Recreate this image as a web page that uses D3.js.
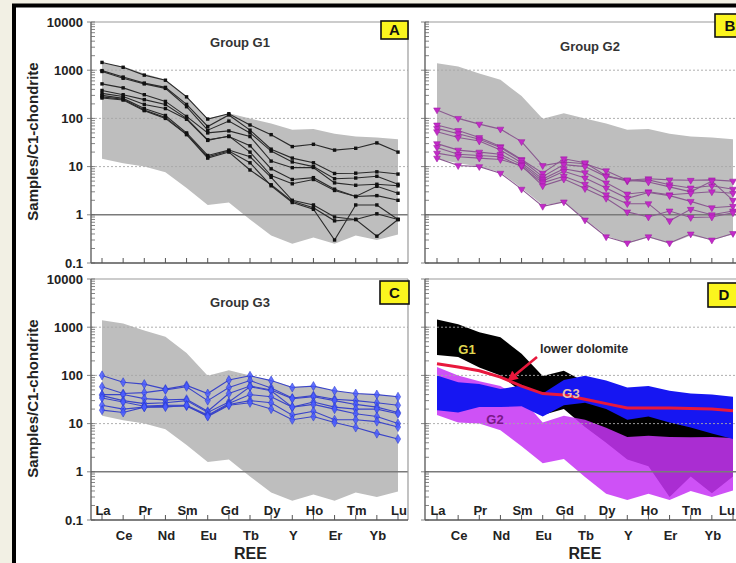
<!DOCTYPE html>
<html><head><meta charset="utf-8">
<script src="https://cdn.jsdelivr.net/npm/d3@7"></script>
<style>
html,body{margin:0;padding:0;background:#f2f0e4;overflow:hidden;}
svg{display:block;font-family:"Liberation Sans",Arial,sans-serif;}
</style></head><body>
<svg id="chart" width="736" height="563"></svg>
<script>
// ---------- DATA ----------
const categories = ["La","Ce","Pr","Nd","Sm","Eu","Gd","Tb","Dy","Y","Ho","Er","Tm","Yb","Lu"];
const yTickValues = [0.1, 1, 10, 100, 1000, 10000];
const yTickLabels = ["0.1", "1", "10", "100", "1000", "10000"];

// grey envelope of all samples
const envelopeUpper = [1400, 1200, 850, 630, 290, 98, 128, 100, 78, 58, 60, 48, 42, 40, 37];
const envelopeLower = [14.6, 11.8, 10, 7.6, 3.6, 1.6, 1.8, 0.8, 0.37, 0.25, 0.34, 0.25, 0.37, 0.3, 0.39];

// Group G1 samples
const groupG1 = [
  [1450, 1150, 790, 620, 280, 97, 125, 73, 46, 26, 29, 22, 24, 31, 20],
  [980, 720, 540, 440, 195, 68, 118, 57, 23, 15, 12, 7.2, 7.3, 7.8, 7],
  [940, 680, 520, 420, 175, 57, 88, 50, 21, 12.5, 10, 5.6, 5.8, 6.3, 4.3],
  [520, 430, 310, 225, 110, 50, 55, 42, 13, 9.5, 9.6, 4.6, 4.1, 4.3, 4],
  [380, 310, 245, 195, 100, 36, 42, 27, 9, 5.4, 5.9, 3.4, 2.4, 3.9, 2.8],
  [330, 285, 195, 160, 96, 35, 43, 20, 6.5, 4.4, 5.4, 3.2, 2.4, 2.5, 2],
  [300, 260, 160, 115, 50, 17, 22, 16, 6, 2, 1.6, 0.9, 0.8, 1.05, 0.8],
  [280, 250, 150, 105, 47, 16, 21, 12, 4, 1.8, 1.3, 0.3, 1.6, 1.6, 0.8],
  [265, 240, 145, 100, 46, 15, 20, 8.5, 4.2, 1.9, 1.4, 0.75, 0.8, 0.36, 0.8]
];

// Group G2 samples
const groupG2 = [
  [150, 100, 76, 60, 33, 10.5, 12.5, 11.5, 8.2, 5.2, 5.6, 5.3, 5.2, 5.3, 5.0],
  [73, 56, 40, 26, 14, 7.3, 14.5, 12, 6.5, 5.0, 5.3, 4.2, 3.6, 4.0, 3.4],
  [62, 48, 37, 25, 13.5, 6.2, 11, 10, 6.2, 5.3, 4.8, 3.8, 3.0, 5.0, 2.0],
  [53, 40, 34, 22, 12, 5.5, 9, 7.5, 4.6, 2.7, 3.0, 2.6, 2.8, 3.0, 2.8],
  [30, 22, 20, 18, 11, 5.0, 8.0, 5.8, 3.6, 2.2, 2.9, 2.5, 1.9, 1.4, 1.5],
  [25, 18, 17, 16, 10, 4.6, 6.3, 4.3, 2.6, 1.7, 1.7, 0.75, 1.3, 1.0, 1.2],
  [19, 16, 15, 14, 10.5, 4.0, 5.5, 3.5, 2.2, 1.15, 0.9, 1.2, 0.88, 0.9, 1.1],
  [15, 10.5, 10, 7.3, 3.4, 1.5, 1.85, 0.78, 0.35, 0.26, 0.35, 0.26, 0.4, 0.3, 0.41]
];

// Group G3 samples
const groupG3 = [
  [100, 72, 66, 52, 62, 42, 80, 98, 78, 56, 60, 48, 42, 40, 36],
  [58, 42, 44, 50, 58, 30, 56, 78, 55, 34, 38, 32, 30, 27, 24],
  [40, 40, 33, 31, 32, 18, 42, 60, 50, 33, 36, 30, 25, 22, 17],
  [38, 30, 26, 27, 30, 17, 28, 58, 48, 22, 28, 22, 20, 20, 16],
  [34, 28, 23, 24, 24, 15, 26, 40, 36, 22, 25, 20, 16, 14, 10],
  [24, 20, 22, 23, 23, 14.5, 25, 30, 27, 15, 18, 12, 12, 11, 8.5],
  [19, 17, 22, 22, 24, 14, 24, 27, 20, 12, 14, 10.5, 8.3, 6.2, 4.8]
];

// lower dolomite reference pattern (panel D)
const lowerDolomite = [175, 150, 125, 92, 60, 42, 39, 32, 26, 21, 21, 21, 20.5, 20, 18.5];

// ---------- LAYOUT ----------
const svg = d3.select("#chart");
svg.append("rect").attr("x", 14).attr("y", 5.5).attr("width", 800).attr("height", 620)
  .attr("fill", "#fff").attr("stroke", "#000").attr("stroke-width", 4);

const panels = [
  {key:"A", left:91, right:408, top:22, bottom:263, xr:[102,398], title:"Group G1", tx:240, ty:47, box:[381,21,27,18], yLab:true, xLab:false, kind:"g1"},
  {key:"B", left:425, right:743, top:22, bottom:263, xr:[437,733], title:"Group G2", tx:590, ty:51, box:[715,14,30,23], yLab:false, xLab:false, kind:"g2"},
  {key:"C", left:91, right:408, top:279, bottom:520, xr:[102,398], title:"Group G3", tx:240, ty:307, box:[380,281,29,23], yLab:true, xLab:true, kind:"g3"},
  {key:"D", left:425, right:743, top:279, bottom:520, xr:[437,733], title:null, box:[708,283,32,24], yLab:false, xLab:true, kind:"d"}
];

const styles = {
  g1: {data: groupG1, line: "#2a2a2a", marker: "square", fill: "#111", stroke: "#111"},
  g2: {data: groupG2, line: "#8a5a90", marker: "tri", fill: "#c22ac8", stroke: "#9a189e"},
  g3: {data: groupG3, line: "#3a44c8", marker: "diamond", fill: "#4a5cff", stroke: "#2434c8"}
};

panels.forEach(p => {
  const g = svg.append("g");
  const x = d3.scalePoint().domain(categories).range(p.xr);
  const y = d3.scaleLog().domain([0.1, 10000]).range([p.bottom, p.top]);
  const xi = (d, i) => x(categories[i]);

  if (p.kind !== "d") {
    // grey envelope
    g.append("path")
      .datum(envelopeUpper)
      .attr("d", d3.area().x(xi).y0((d, i) => y(envelopeLower[i])).y1(d => y(d)))
      .attr("fill", "#bebebe");
  } else {
    const band = (data) => d3.area().x(xi)
      .y0((d, i) => y(d3.min(data.map(s => s[i]))))
      .y1((d, i) => y(d3.max(data.map(s => s[i]))));
    g.append("path").datum(categories).attr("d", band(groupG1)).attr("fill", "#000");
    g.append("path").datum(categories).attr("d", band(groupG2)).attr("fill", "#c634f4").attr("fill-opacity", 0.86);
    g.append("path").datum(categories).attr("d", band(groupG3)).attr("fill", "#1616f2");
  }

  // grid
  [1000, 100, 10].forEach(v => {
    g.append("line").attr("x1", p.left).attr("x2", p.right).attr("y1", y(v)).attr("y2", y(v))
      .attr("stroke", "#a8a8a8").attr("stroke-width", 1).attr("stroke-dasharray", "2,2").attr("opacity", 0.9);
  });
  g.append("line").attr("x1", p.left).attr("x2", p.right).attr("y1", y(1)).attr("y2", y(1))
    .attr("stroke", "#7a7a7a").attr("stroke-width", 1.4);

  if (p.kind !== "d") {
    const st = styles[p.kind];
    const line = d3.line().x(xi).y(d => y(d));
    st.data.forEach(s => {
      g.append("path").datum(s).attr("d", line).attr("fill", "none")
        .attr("stroke", st.line).attr("stroke-width", 1.1);
    });
    st.data.forEach(s => {
      s.forEach((v, i) => {
        const cx = x(categories[i]), cy = y(v);
        if (st.marker === "square") {
          g.append("rect").attr("x", cx - 1.7).attr("y", cy - 1.7).attr("width", 3.4).attr("height", 3.4)
            .attr("fill", st.fill);
        } else if (st.marker === "tri") {
          g.append("path").attr("d", d3.symbol(d3.symbolTriangle, 20)())
            .attr("transform", `translate(${cx},${cy}) rotate(180)`)
            .attr("fill", st.fill).attr("stroke", st.stroke).attr("stroke-width", 0.5);
        } else {
          g.append("path").attr("d", d3.symbol(d3.symbolDiamond, 24)())
            .attr("transform", `translate(${cx},${cy})`)
            .attr("fill", st.fill).attr("stroke", st.stroke).attr("stroke-width", 0.5).attr("fill-opacity", 0.85);
        }
      });
    });
  } else {
    // lower dolomite line
    g.append("path").datum(lowerDolomite)
      .attr("d", d3.line().x(xi).y(d => y(d)))
      .attr("fill", "none").attr("stroke", "#e8183c").attr("stroke-width", 3);
    // arrow
    const defs = svg.append("defs");
    defs.append("marker").attr("id", "arrowhead").attr("viewBox", "0 0 10 10").attr("refX", 8).attr("refY", 5)
      .attr("markerWidth", 4).attr("markerHeight", 4).attr("orient", "auto")
      .append("path").attr("d", "M0,0 L10,5 L0,10 z").attr("fill", "#e8183c");
    g.append("line").attr("x1", 537).attr("y1", 357).attr("x2", 509).attr("y2", 380)
      .attr("stroke", "#e8183c").attr("stroke-width", 2.6).attr("marker-end", "url(#arrowhead)");
    g.append("text").attr("x", 540).attr("y", 353).text("lower dolomite")
      .attr("font-size", 12.5).attr("font-weight", "bold").attr("fill", "#2a2a2a");
    g.append("text").attr("x", 467).attr("y", 354).attr("text-anchor", "middle").text("G1")
      .attr("font-size", 13).attr("font-weight", "bold").attr("fill", "#e0d850");
    g.append("text").attr("x", 571).attr("y", 398).attr("text-anchor", "middle").text("G3")
      .attr("font-size", 13).attr("font-weight", "bold").attr("fill", "#e6c4b0");
    g.append("text").attr("x", 495).attr("y", 424).attr("text-anchor", "middle").text("G2")
      .attr("font-size", 13).attr("font-weight", "bold").attr("fill", "#7a1888");
  }

  // frame
  g.append("line").attr("x1", p.left).attr("x2", p.right).attr("y1", p.top).attr("y2", p.top)
    .attr("stroke", "#9a9a9a").attr("stroke-width", 1.2);
  g.append("line").attr("x1", p.right).attr("x2", p.right).attr("y1", p.top).attr("y2", p.bottom)
    .attr("stroke", "#9a9a9a").attr("stroke-width", 1.2);
  g.append("line").attr("x1", p.left).attr("x2", p.right).attr("y1", p.bottom).attr("y2", p.bottom)
    .attr("stroke", "#555").attr("stroke-width", 1.3);
  g.append("line").attr("x1", p.left).attr("x2", p.left).attr("y1", p.top).attr("y2", p.bottom)
    .attr("stroke", "#555").attr("stroke-width", 1.3);

  // y ticks
  y.ticks().forEach(v => {
    const major = Math.abs(Math.log10(v) - Math.round(Math.log10(v))) < 1e-6;
    g.append("line").attr("x1", major ? p.left - 4 : p.left).attr("x2", p.left + 4)
      .attr("y1", y(v)).attr("y2", y(v)).attr("stroke", "#666").attr("stroke-width", 0.8);
  });
  if (p.yLab) {
    yTickValues.forEach((v, i) => {
      g.append("text").attr("x", p.left - 8).attr("y", y(v)).attr("dy", "0.36em")
        .attr("text-anchor", "end").attr("font-size", 13).attr("font-weight", "bold")
        .attr("fill", "#222").text(yTickLabels[i]);
    });
    g.append("text").attr("transform", `translate(38,${(p.top + p.bottom) / 2 - 1}) rotate(-90)`)
      .attr("text-anchor", "middle").attr("font-size", 15).attr("font-weight", "bold")
      .attr("fill", "#222").text("Samples/C1-chondrite");
  }

  // x ticks
  categories.forEach(c => {
    g.append("line").attr("x1", x(c)).attr("x2", x(c)).attr("y1", p.bottom).attr("y2", p.bottom - 5)
      .attr("stroke", "#555").attr("stroke-width", 1);
  });
  if (p.xLab) {
    categories.forEach((c, i) => {
      const last = i === categories.length - 1;
      const lx = Math.min(x(c) + 1, 735 - 8);
      g.append("text").attr("x", lx).attr("y", i % 2 === 0 ? p.bottom - 5 : p.bottom + 20)
        .attr("text-anchor", "middle").attr("font-size", 13).attr("font-weight", "bold")
        .attr("fill", "#222").text(c);
    });
    g.append("text").attr("x", (p.left + p.right) / 2 + 1).attr("y", 559)
      .attr("text-anchor", "middle").attr("font-size", 16).attr("font-weight", "bold")
      .attr("fill", "#222").text("REE");
  }

  // title
  if (p.title) {
    g.append("text").attr("x", p.tx).attr("y", p.ty).attr("text-anchor", "middle")
      .attr("font-size", 13).attr("font-weight", "bold").attr("fill", "#333").text(p.title);
  }

  // label box
  const [bx, by, bw, bh] = p.box;
  g.append("rect").attr("x", bx).attr("y", by).attr("width", bw).attr("height", bh)
    .attr("fill", "#fbf51e").attr("stroke", "#111").attr("stroke-width", 1.6);
  g.append("text").attr("x", bx + bw / 2).attr("y", by + bh / 2).attr("dy", "0.36em")
    .attr("text-anchor", "middle").attr("font-size", 15).attr("font-weight", "bold")
    .attr("fill", "#111").text(p.key);
});
</script>
</body></html>
